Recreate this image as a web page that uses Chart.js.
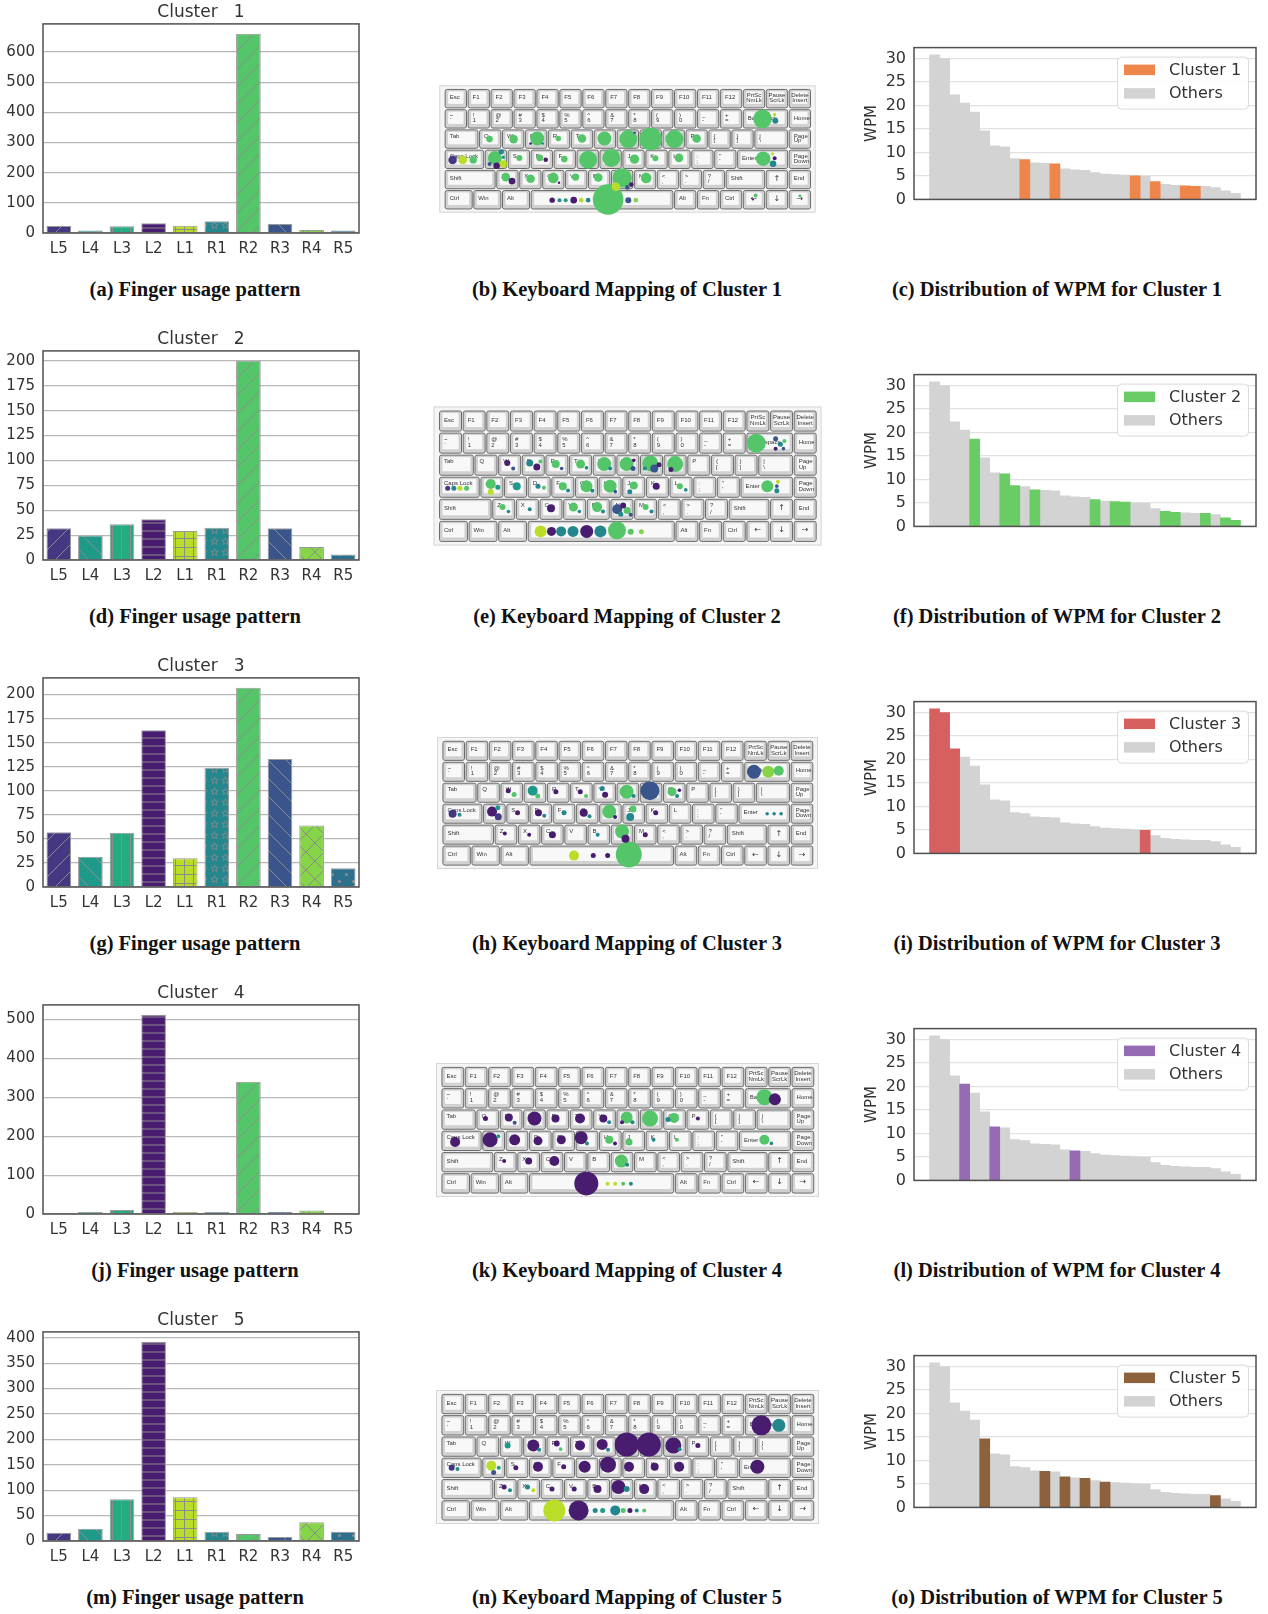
<!DOCTYPE html>
<html>
<head>
<meta charset="utf-8">
<script src="https://cdn.jsdelivr.net/npm/chart.js@4.4.1/dist/chart.umd.min.js"></script>
<style>
  body { margin: 0; background: #fff; width: 1268px; height: 1614px; position: relative; overflow: hidden; }
  .panel { position: absolute; }
  .cap { position: absolute; width: 500px; margin-left: -250px; text-align: center; white-space: nowrap;
         font: bold 20.5px "Liberation Serif", "DejaVu Serif", serif; line-height: 22px; color: #111; }
</style>
</head>
<body>
<script>
/* ==========================================================
   Finger usage / keyboard mapping / WPM per cluster
==========================================================*/

// ----- finger usage (column 1) -----
const FINGERS = ["L5", "L4", "L3", "L2", "L1", "R1", "R2", "R3", "R4", "R5"];
const usage1 = [23, 8, 22, 32, 24, 39, 660, 30, 10, 8];
const usage2 = [32, 24.5, 36, 41, 29, 32.5, 200, 32, 13, 5.5];
const usage3 = [57, 31.5, 56.5, 163, 30, 124, 207, 133, 64, 19.5];
const usage4 = [2, 5, 10, 512, 5, 5, 340, 6, 9, 2];
const usage5 = [16, 24, 82, 392, 86, 18, 14, 8, 37, 18];
const usageSteps = [100, 25, 25, 100, 50];

// ----- WPM of every participant, sorted (column 3) -----
const wpm = [30.8, 30.0, 22.3, 20.5, 18.6, 14.6, 11.4, 11.2, 8.7, 8.5, 7.8, 7.7, 7.6, 6.5, 6.3, 6.2,
             5.7, 5.4, 5.3, 5.2, 5.0, 4.9, 3.8, 3.2, 3.0, 2.9, 2.8, 2.8, 2.5, 1.8, 1.3];
const wpmCluster = [3, 3, 3, 4, 2, 5, 4, 2, 2, 1, 2, 5, 1, 5, 4, 5,
                    2, 5, 2, 2, 1, 3, 1, 2, 2, 1, 1, 2, 5, 2, 2];
const wpmStep = 5;

// ----- keyboard bubbles (column 2): [key x, key row, radius px, finger index] -----
const kb1 = [
  [13.87,1.50,9.3,6],[14.40,1.30,1.7,4],[14.43,1.59,3,5],
  [1.97,2.50,3.3,6],[3.02,2.50,4.3,6],[4.05,2.47,7,6],[3.76,2.72,1.3,3],[4.29,2.72,1.3,5],
  [4.97,2.47,2.7,6],[6.00,2.47,4.3,6],[6.98,2.47,7,6],[8.02,2.50,9,6],[8.30,2.19,1.3,7],
  [9.00,2.50,11.3,6],[10.03,2.50,9,6],[11.00,2.47,4.3,6],
  [0.36,3.53,4.3,0],[0.80,3.53,4.3,4],[1.26,3.53,3.7,6],
  [2.20,3.43,7,6],[2.48,3.13,2.7,5],[2.57,3.40,1.7,1],[1.97,3.73,2,7],[2.28,3.82,3.3,3],[2.57,3.73,3.7,4],
  [3.27,3.43,3,6],[4.16,3.43,3.3,6],[4.42,3.52,2.3,3],[5.23,3.49,3.3,6],[6.27,3.52,9,6],[7.28,3.43,9,6],
  [8.29,3.49,4.7,6],[9.20,3.45,3,6],[10.23,3.43,4.3,6],
  [13.90,3.47,7.3,6],[14.31,3.23,1.7,4],[14.40,3.45,2,3],[14.33,3.72,3.3,5],
  [2.68,4.38,4.3,6],[2.95,4.58,3.3,3],[3.76,4.46,4.3,6],[4.75,4.42,5.3,6],[5.00,4.66,1.3,3],
  [5.72,4.38,3.7,6],[6.71,4.40,4.3,6],[7.75,4.42,9.7,6],[7.48,4.86,4.3,4],[7.98,4.89,2.3,7],[8.15,4.75,2.3,3],[8.80,4.42,5.3,6],
  [4.70,5.52,2.7,3],[5.02,5.52,2,5],[5.29,5.52,2,1],[5.64,5.52,3.3,3],[5.97,5.52,2.3,4],[6.27,5.52,2.3,5],
  [7.14,5.49,15.3,6],[8.02,5.52,3,7],[8.35,5.52,2.3,8],
  [13.57,5.29,2,6],[13.46,5.49,1,3],[15.50,5.30,1.5,6]
];
const kb2 = [
  [13.43,1.50,9.5,6],[14.25,1.30,2.5,7],[14.45,1.55,2.5,5],[14.25,1.75,2,3],[14.62,1.40,2,6],[14.58,1.75,1.8,7],
  [2.90,2.40,3,3],[3.15,2.65,2,7],[3.85,2.40,3.5,5],[4.15,2.58,3.5,3],[4.30,2.33,2,6],
  [4.95,2.45,4,6],[5.20,2.65,1.8,7],[6.00,2.45,4.5,6],[6.25,2.62,1.8,5],[7.00,2.45,7,6],[7.25,2.65,2,5],
  [7.95,2.45,7,6],[8.22,2.65,2.5,7],[8.25,2.28,1.8,3],
  [8.95,2.42,8,6],[9.12,2.65,4,7],[9.32,2.48,2.5,3],[8.72,2.65,2,5],[10.00,2.45,8,6],[9.82,2.70,2.5,3],
  [0.38,3.55,2.5,0],[0.64,3.55,2.5,5],[0.90,3.55,2.5,4],[1.18,3.55,2.5,6],
  [2.20,3.35,5,6],[2.20,3.72,3,4],[2.50,3.50,2.5,1],[3.30,3.45,4,1],[4.20,3.45,2.5,5],[4.45,3.52,2,6],
  [5.25,3.45,4,6],[5.47,3.65,2,5],[6.25,3.45,6,6],[6.50,3.66,2,5],[7.25,3.45,6.5,6],[7.47,3.70,1.8,7],
  [8.25,3.42,4,6],[8.08,3.70,2.5,5],[9.20,3.45,3.5,3],[10.20,3.45,3,6],[10.45,3.62,1.8,5],
  [13.90,3.45,6,6],[14.30,3.66,2.5,5],[14.35,3.25,2,4],[14.30,3.45,1.8,7],
  [2.70,4.40,3,6],[2.95,4.60,1.8,5],[3.85,4.50,2,5],[4.75,4.45,4,3],[5.70,4.40,4.5,6],[5.95,4.60,1.8,5],
  [6.70,4.40,5,6],[6.95,4.60,2,5],[7.55,4.50,5,7],[7.80,4.33,3,3],[7.70,4.72,2.5,5],[7.97,4.55,3.5,6],[8.12,4.75,2,7],
  [8.75,4.40,3,6],[9.00,4.60,2,5],
  [4.31,5.50,6,4],[4.77,5.50,4.5,3],[5.18,5.50,5,5],[5.68,5.50,5.5,5],[6.26,5.50,6.5,3],[6.84,5.50,6,5],
  [7.54,5.45,9,6],[8.12,5.52,3,6],[8.57,5.52,2.5,8]
];
const kb3 = [
  [13.43,1.50,7,7],[14.05,1.50,6,8],[14.50,1.45,5,6],
  [2.85,2.40,2.5,3],[3.10,2.58,2.5,6],[3.90,2.40,5,1],[4.12,2.65,2.5,6],[4.90,2.45,2.5,3],
  [5.95,2.45,2.5,3],[6.20,2.65,2,6],[6.90,2.30,2.5,5],[7.02,2.60,3,3],[7.95,2.45,7,6],[8.25,2.65,2,5],
  [8.95,2.40,9.5,7],[9.90,2.45,4.5,6],[10.12,2.65,2,5],[10.22,2.38,1.8,3],
  [0.45,3.50,4,0],[0.75,3.55,2,5],[2.15,3.40,5,3],[2.40,3.22,2.5,1],[2.42,3.65,3.5,0],[3.25,3.45,2.5,3],
  [4.15,3.45,3.5,3],[4.40,3.60,2,5],[5.25,3.45,2.5,5],[6.10,3.45,4,3],[6.35,3.62,2,5],
  [7.20,3.40,7,6],[7.45,3.66,2,3],[8.22,3.28,3.5,6],[8.10,3.66,4,5],[9.20,3.45,2.5,3],
  [14.00,3.50,1.8,5],[14.30,3.50,1.8,5],[14.60,3.50,1.8,5],
  [2.70,4.45,2,3],[3.75,4.50,2,3],[4.75,4.50,3.5,3],[6.70,4.50,2,5],[7.75,4.35,7,6],[7.90,4.70,4,3],[8.75,4.50,2.5,3],
  [5.68,5.50,5,4],[6.51,5.50,2.5,3],[7.13,5.50,2.5,3],[8.04,5.45,13,6]
];
const kb4 = [
  [13.85,1.45,8,6],[14.30,1.55,6,3],
  [1.90,2.45,2.5,3],[2.90,2.40,4,3],[3.15,2.65,2,7],[4.00,2.45,7,3],[4.90,2.45,4,3],[5.95,2.45,5,3],
  [6.95,2.45,4,3],[7.20,2.62,2,5],[7.95,2.40,6,6],[8.20,2.62,2,5],[7.75,2.62,2,3],[8.95,2.45,8,6],
  [9.72,2.50,2.5,5],[9.98,2.42,5,6],[11.00,2.45,2,3],
  [0.60,3.55,5,3],[2.10,3.45,7.5,3],[2.45,3.28,2,1],[3.15,3.45,5.5,3],[4.15,3.50,4.5,3],[5.15,3.45,4.5,3],
  [6.00,3.35,6.5,3],[6.25,3.62,2,5],[7.20,3.45,4,6],[7.45,3.62,2,3],[8.05,3.55,3.5,6],[9.10,3.45,2,5],
  [10.10,3.45,2,6],[13.85,3.45,5,6],[14.15,3.62,1.8,5],
  [2.70,4.45,2,3],[3.75,4.45,3.5,3],[4.85,4.45,5,3],[7.72,4.45,6.5,6],[7.97,4.62,2,5],
  [6.22,5.50,12,3],[7.13,5.52,2,4],[7.46,5.52,2,4],[7.80,5.52,2,6],[8.13,5.52,2,5]
];
const kb5 = [
  [13.72,1.50,10,3],[14.47,1.50,6.5,5],
  [2.85,2.45,3,1],[3.95,2.45,6,3],[4.20,2.65,2,5],[4.95,2.35,3,3],[5.12,2.62,1.8,6],[5.95,2.45,5,3],
  [6.90,2.40,5.5,3],[7.15,2.65,2,5],[7.95,2.40,12,3],[8.90,2.40,12,3],[9.95,2.45,8,3],[10.22,2.62,2,5],[11.00,2.45,2.5,3],
  [0.45,3.50,3,0],[0.70,3.55,2,5],[2.15,3.40,5,4],[2.25,3.72,2.5,7],[2.47,3.50,2,1],[3.20,3.50,2.5,3],
  [4.15,3.45,5,3],[5.25,3.45,2.5,3],[6.15,3.45,6,3],[7.15,3.35,8,3],[8.05,3.45,5,3],[9.15,3.45,4,3],
  [10.20,3.45,5,3],[13.55,3.45,7,3],
  [2.70,4.40,2.5,3],[2.95,4.55,2,5],[3.70,4.40,2.5,5],[3.95,4.55,2,4],[4.75,4.50,2.5,3],[5.70,4.50,2.5,3],
  [6.70,4.50,4,3],[7.60,4.40,7,3],[7.95,4.50,3,5],[8.70,4.50,5,3],
  [4.85,5.50,11,4],[5.89,5.50,10,3],[6.60,5.50,2.5,5],[6.92,5.50,2.5,1],[7.46,5.50,5,5],[7.80,5.50,2.5,6],
  [8.09,5.50,2.5,3],[8.38,5.50,2,5],[8.70,5.50,2,6]
];

const USAGE = [usage1, usage2, usage3, usage4, usage5];
const KEYBOARDS = [kb1, kb2, kb3, kb4, kb5];

// ----- styles -----
const FINGER_COLORS = ["#453781", "#1f9a8a", "#25ab82", "#481c6e", "#bade28",
                       "#24878e", "#54c568", "#3a548c", "#86d549", "#2d708e"];
const FINGER_HATCH = ["/", "\\", "|", "-", "+", "*", "/", "\\", "x", "."];
const CLUSTER_COLORS = ["#ee854a", "#6acc64", "#d65f5f", "#956cb4", "#8c613c"];
const OTHERS_COLOR = "#d3d3d3";

// keyboard layout: [label, width in key units]
const KEY_ROWS = [
  [["Esc",1],["F1",1],["F2",1],["F3",1],["F4",1],["F5",1],["F6",1],["F7",1],["F8",1],["F9",1],["F10",1],["F11",1],["F12",1],["PrtSc\nNmLk",1],["Pause\nScrLk",1],["Delete\nInsert",1]],
  [["~\n`",1],["!\n1",1],["@\n2",1],["#\n3",1],["$\n4",1],["%\n5",1],["^\n6",1],["&\n7",1],["*\n8",1],["(\n9",1],[")\n0",1],["_\n-",1],["+\n=",1],["Backspace",2],["Home",1]],
  [["Tab",1.5],["Q",1],["W",1],["E",1],["R",1],["T",1],["Y",1],["U",1],["I",1],["O",1],["P",1],["{\n[",1],["}\n]",1],["|\n\\",1.5],["Page\nUp",1]],
  [["Caps Lock",1.75],["A",1],["S",1],["D",1],["F",1],["G",1],["H",1],["J",1],["K",1],["L",1],[":\n;",1],["\"\n'",1],["Enter",2.25],["Page\nDown",1]],
  [["Shift",2.25],["Z",1],["X",1],["C",1],["V",1],["B",1],["N",1],["M",1],["<\n,",1],[">\n.",1],["?\n/",1],["Shift",1.75],["↑",1],["End",1]],
  [["Ctrl",1.25],["Win",1.25],["Alt",1.25],["",6.25],["Alt",1],["Fn",1],["Ctrl",1],["←",1],["↓",1],["→",1]]
];

const ROW_H = 327;
const TEXT = "#333";

Chart.defaults.font.family = "'DejaVu Sans', sans-serif";
Chart.defaults.color = TEXT;

// =====================================
// Helpers
// =====================================

function makeCanvas(left, top, w, h) {
    const div = document.createElement("div");
    div.className = "panel";
    div.style.left = left + "px";
    div.style.top = top + "px";
    const c = document.createElement("canvas");
    c.width = w;
    c.height = h;
    c.style.width = w + "px";
    c.style.height = h + "px";
    div.appendChild(c);
    document.body.appendChild(div);
    return c;
}

function caption(text, cx, top) {
    const d = document.createElement("div");
    d.className = "cap";
    d.style.left = cx + "px";
    d.style.top = top + "px";
    d.textContent = text;
    document.body.appendChild(d);
}

// matplotlib-like ticks: multiples of step up to the axis max
function stepTicks(step) {
    return function (scale) {
        const ticks = [];
        for (let v = 0; v <= scale.max + 1e-9; v += step) ticks.push({ value: v });
        scale.ticks = ticks;
    };
}

function hatchPattern(color, kind) {
    const sizes = { "/": 18, "\\": 18, "x": 18, "|": 9, "-": 8, "+": 9, "*": 11, ".": 14 };
    const s = sizes[kind];
    const c = document.createElement("canvas");
    c.width = s;
    c.height = s;
    const g = c.getContext("2d");
    g.fillStyle = color;
    g.fillRect(0, 0, s, s);
    g.strokeStyle = "#8c8c8c";
    g.fillStyle = "#8c8c8c";
    g.lineWidth = 1;
    g.beginPath();
    if (kind === "/" || kind === "x") {
        for (const k of [-s, 0, s]) { g.moveTo(k, s); g.lineTo(k + s, 0); }
    }
    if (kind === "\\" || kind === "x") {
        for (const k of [-s, 0, s]) { g.moveTo(k, 0); g.lineTo(k + s, s); }
    }
    if (kind === "|" || kind === "+") { g.moveTo(s / 2, 0); g.lineTo(s / 2, s); }
    if (kind === "-" || kind === "+") { g.moveTo(0, s / 2); g.lineTo(s, s / 2); }
    g.stroke();
    if (kind === "*") {
        g.beginPath();
        for (let i = 0; i < 10; i++) {
            const a = -Math.PI / 2 + i * Math.PI / 5;
            const rr = i % 2 ? 1.6 : 3.8;
            const px = s / 2 + rr * Math.cos(a), py = s / 2 + rr * Math.sin(a);
            i ? g.lineTo(px, py) : g.moveTo(px, py);
        }
        g.closePath();
        g.lineWidth = 0.8;
        g.stroke();
    }
    if (kind === ".") {
        for (const [px, py] of [[s / 4, s / 4], [3 * s / 4, 3 * s / 4]]) {
            g.beginPath();
            g.arc(px, py, 1.6, 0, Math.PI * 2);
            g.fill();
        }
    }
    return c.getContext("2d").createPattern(c, "repeat");
}

// plot frame (all four spines)
const framePlugin = {
    id: "frame",
    afterDatasetsDraw(chart) {
        const { ctx, chartArea: a } = chart;
        ctx.save();
        ctx.strokeStyle = "#505050";
        ctx.lineWidth = 1.5;
        ctx.strokeRect(a.left, a.top, a.right - a.left, a.bottom - a.top);
        ctx.restore();
    }
};

// boxed legend inside the WPM plot, built from the datasets
const wpmLegend = {
    id: "wpmLegend",
    afterDraw(chart) {
        const { ctx, chartArea: a } = chart;
        const w = 131, h = 52;
        const bx = a.right - 8 - w, by = a.top + 9;
        ctx.save();
        ctx.beginPath();
        ctx.roundRect(bx + 0.5, by + 0.5, w, h, 4);
        ctx.fillStyle = "rgba(255,255,255,0.85)";
        ctx.fill();
        ctx.strokeStyle = "#dadada";
        ctx.lineWidth = 1;
        ctx.stroke();
        ctx.font = "16px 'DejaVu Sans'";
        ctx.textBaseline = "middle";
        chart.data.datasets.forEach((ds, i) => {
            const cy = by + 13 + i * 23.5;
            ctx.fillStyle = ds.backgroundColor;
            ctx.fillRect(bx + 7, cy - 5, 31, 10.5);
            ctx.fillStyle = TEXT;
            ctx.fillText(ds.label, bx + 52, cy + 1);
        });
        ctx.restore();
    }
};

// keyboard keys under the bubbles
const keyboardPlugin = {
    id: "keyboard",
    beforeDatasetsDraw(chart) {
        const { ctx, chartArea: a } = chart;
        const x = chart.scales.x, y = chart.scales.y;
        ctx.save();
        ctx.fillStyle = "#f5f5f5";
        ctx.fillRect(a.left, a.top, a.right - a.left, a.bottom - a.top);
        ctx.strokeStyle = "#d6d6d6";
        ctx.strokeRect(a.left + 0.5, a.top + 0.5, a.right - a.left - 1, a.bottom - a.top - 1);

        KEY_ROWS.forEach((row, r) => {
            let u = 0;
            row.forEach(([label, w]) => {
                const x0 = x.getPixelForValue(u + 0.035), x1 = x.getPixelForValue(u + w - 0.035);
                const y0 = y.getPixelForValue(r + 0.045), y1 = y.getPixelForValue(r + 0.955);
                ctx.beginPath();
                ctx.roundRect(x0, y0, x1 - x0, y1 - y0, 2);
                ctx.fillStyle = "#d2d2d2";
                ctx.fill();
                ctx.strokeStyle = "#6b6b6b";
                ctx.lineWidth = 1;
                ctx.stroke();
                const fx0 = x0 + 2.5, fx1 = x1 - 2.5, fy0 = y0 + 1.5, fy1 = y1 - 3.5;
                ctx.beginPath();
                ctx.roundRect(fx0, fy0, fx1 - fx0, fy1 - fy0, 1.5);
                ctx.fillStyle = "#f8f8f8";
                ctx.fill();
                ctx.strokeStyle = "#c4c4c4";
                ctx.lineWidth = 0.6;
                ctx.stroke();

                ctx.fillStyle = "#333";
                ctx.font = "6px 'Liberation Sans'";
                const lines = label.split("\n");
                if (lines.length === 2) {
                    const centred = r === 0;
                    ctx.textAlign = centred ? "center" : "left";
                    const tx = centred ? (fx0 + fx1) / 2 : fx0 + 2;
                    ctx.textBaseline = "top";
                    ctx.fillText(lines[0], tx, fy0 + 1.5);
                    ctx.textBaseline = "bottom";
                    ctx.fillText(lines[1], tx, fy1 - 1);
                } else if ("←↓→↑".includes(label) && label) {
                    ctx.font = "8px 'DejaVu Sans'";
                    ctx.textAlign = "center";
                    ctx.textBaseline = "middle";
                    ctx.fillText(label, (fx0 + fx1) / 2, (fy0 + fy1) / 2);
                } else if (label.length === 1 || label === "Tab" || label === "Caps Lock") {
                    ctx.textAlign = "left";
                    ctx.textBaseline = "top";
                    ctx.fillText(label, fx0 + 2, fy0 + 2);
                } else if (label) {
                    ctx.textAlign = "left";
                    ctx.textBaseline = "middle";
                    ctx.fillText(label, fx0 + 2, (fy0 + fy1) / 2);
                }
                u += w;
            });
        });
        ctx.restore();
    }
};

// =====================================
// Build the figure
// =====================================

const letters = "abcdefghijklmno";

for (let k = 0; k < 5; k++) {

    const top = k * ROW_H;
    const values = USAGE[k];

    // ---- (a) finger usage ----
    new Chart(makeCanvas(0, top, 372, 261), {
        type: "bar",
        data: {
            labels: FINGERS,
            datasets: [{
                data: values,
                backgroundColor: FINGER_COLORS.map((c, i) => hatchPattern(c, FINGER_HATCH[i])),
                borderColor: "#999999",
                borderWidth: 1,
                barPercentage: 0.78,
                categoryPercentage: 1
            }]
        },
        options: {
            responsive: false,
            animation: false,
            layout: { padding: { top: 2.5, right: 13, left: 0, bottom: 0 } },
            plugins: {
                legend: { display: false },
                tooltip: { enabled: false },
                title: {
                    display: true,
                    fullSize: false,
                    text: "Cluster   " + (k + 1),
                    color: TEXT,
                    font: { size: 17, weight: "normal" },
                    padding: { top: 0, bottom: 1 }
                }
            },
            scales: {
                x: {
                    grid: { display: false, drawTicks: false },
                    border: { display: false },
                    ticks: { color: TEXT, font: { size: 15 }, padding: 7 },
                    afterFit(s) { s.height = 28; }
                },
                y: {
                    min: 0,
                    max: Math.max(...values) * 1.05,
                    grid: { color: "#b9b9b9", lineWidth: 1.2, drawTicks: false },
                    border: { display: false },
                    ticks: { color: TEXT, font: { size: 15 }, padding: 8 },
                    afterBuildTicks: stepTicks(usageSteps[k]),
                    afterFit(s) { s.width = 43; }
                }
            }
        },
        plugins: [framePlugin]
    });

    // ---- (b) keyboard mapping ----
    const bubbles = KEYBOARDS[k].slice().sort((p, q) => q[2] - p[2]);
    new Chart(makeCanvas(424, top + 70, 407, 158), {
        type: "bubble",
        data: {
            datasets: [{
                data: bubbles.map(b => ({ x: b[0], y: b[1], r: b[2] })),
                backgroundColor: bubbles.map(b => FINGER_COLORS[b[3]]),
                borderWidth: 0,
                clip: false
            }]
        },
        options: {
            responsive: false,
            animation: false,
            layout: { padding: 0 },
            plugins: { legend: { display: false }, tooltip: { enabled: false } },
            scales: {
                x: { type: "linear", min: -0.22, max: 16.19, display: false },
                y: { type: "linear", min: -0.16, max: 6.14, reverse: true, display: false }
            }
        },
        plugins: [keyboardPlugin]
    });

    // ---- (c) WPM distribution ----
    const cl = k + 1;
    new Chart(makeCanvas(858, top + 30, 405, 187), {
        type: "bar",
        data: {
            datasets: [
                {
                    label: "Cluster " + cl,
                    data: wpm.map((v, i) => ({ x: i, y: wpmCluster[i] === cl ? v : null })),
                    backgroundColor: CLUSTER_COLORS[k]
                },
                {
                    label: "Others",
                    data: wpm.map((v, i) => ({ x: i, y: wpmCluster[i] !== cl ? v : null })),
                    backgroundColor: OTHERS_COLOR
                }
            ]
        },
        options: {
            responsive: false,
            animation: false,
            layout: { padding: { top: 12, right: 7, bottom: 5, left: 0 } },
            datasets: { bar: { grouped: false, barPercentage: 1, categoryPercentage: 1, borderWidth: 0 } },
            plugins: { legend: { display: false }, tooltip: { enabled: false } },
            scales: {
                x: { type: "linear", min: -2.05, max: wpm.length + 1.05, offset: false, display: false },
                y: {
                    min: 0,
                    max: Math.max(...wpm) * 1.05,
                    grid: { color: "#e2e2e2", lineWidth: 1.2, drawTicks: false },
                    border: { display: false },
                    ticks: { color: TEXT, font: { size: 16 }, padding: 8 },
                    afterBuildTicks: stepTicks(wpmStep),
                    title: { display: true, text: "WPM", color: TEXT, font: { size: 15 }, padding: { top: 5, bottom: 0 } },
                    afterFit(s) { s.width = 56; }
                }
            }
        },
        plugins: [framePlugin, wpmLegend]
    });

    // ---- captions ----
    caption("(" + letters[3 * k] + ") Finger usage pattern", 195, top + 278);
    caption("(" + letters[3 * k + 1] + ") Keyboard Mapping of Cluster " + cl, 627, top + 278);
    caption("(" + letters[3 * k + 2] + ") Distribution of WPM for Cluster " + cl, 1057, top + 278);
}
</script>
</body>
</html>
